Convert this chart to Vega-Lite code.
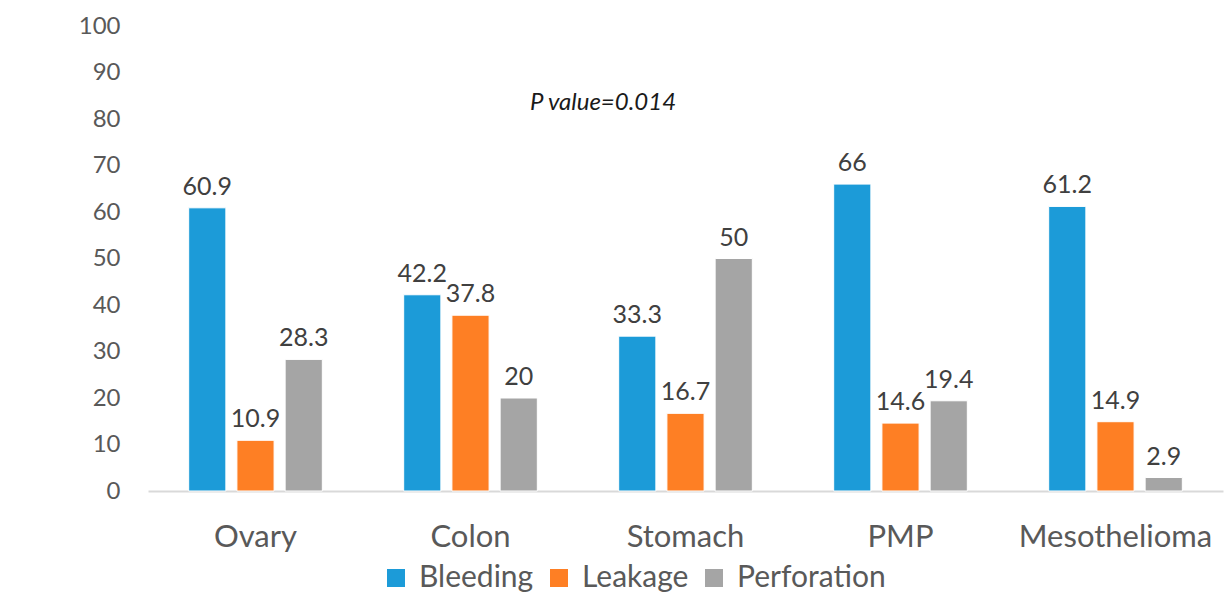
{
  "$schema": "https://vega.github.io/schema/vega-lite/v6.json",
  "autosize": {"type": "none"},
  "padding": {"left": 148, "top": 26, "right": 9, "bottom": 113},
  "width": 1075,
  "height": 465,
  "background": "white",
  "config": {"view": {"stroke": null}},
  "title": {
    "text": "P value=0.014",
    "anchor": "start",
    "frame": "group",
    "orient": "top",
    "dx": 382,
    "dy": 120,
    "offset": 0,
    "baseline": "alphabetic",
    "font": "Lato",
    "fontSize": 24,
    "fontStyle": "italic",
    "fontWeight": "normal",
    "color": "#1a1a1a"
  },
  "data": {
    "values": [
      {"site": "Ovary", "type": "Bleeding", "value": 60.9},
      {"site": "Ovary", "type": "Leakage", "value": 10.9},
      {"site": "Ovary", "type": "Perforation", "value": 28.3},
      {"site": "Colon", "type": "Bleeding", "value": 42.2},
      {"site": "Colon", "type": "Leakage", "value": 37.8},
      {"site": "Colon", "type": "Perforation", "value": 20},
      {"site": "Stomach", "type": "Bleeding", "value": 33.3},
      {"site": "Stomach", "type": "Leakage", "value": 16.7},
      {"site": "Stomach", "type": "Perforation", "value": 50},
      {"site": "PMP", "type": "Bleeding", "value": 66},
      {"site": "PMP", "type": "Leakage", "value": 14.6},
      {"site": "PMP", "type": "Perforation", "value": 19.4},
      {"site": "Mesothelioma", "type": "Bleeding", "value": 61.2},
      {"site": "Mesothelioma", "type": "Leakage", "value": 14.9},
      {"site": "Mesothelioma", "type": "Perforation", "value": 2.9}
    ]
  },
  "encoding": {
    "x": {
      "field": "site",
      "type": "nominal",
      "sort": ["Ovary", "Colon", "Stomach", "PMP", "Mesothelioma"],
      "scale": {"paddingInner": 0.327, "paddingOuter": 0.1635},
      "axis": {
        "title": null,
        "labelAngle": 0,
        "ticks": false,
        "domainColor": "#D9D9D9",
        "domainWidth": 2,
        "labelFont": "Lato",
        "labelFontSize": 31,
        "labelColor": "#595959",
        "labelPadding": 31,
        "labelLimit": 400
      }
    },
    "xOffset": {
      "field": "type",
      "type": "nominal",
      "sort": ["Bleeding", "Leakage", "Perforation"],
      "scale": {"paddingInner": 0.229, "paddingOuter": 0.1145}
    },
    "y": {
      "field": "value",
      "type": "quantitative",
      "scale": {"domain": [0, 100], "nice": false},
      "axis": {
        "title": null,
        "values": [0, 10, 20, 30, 40, 50, 60, 70, 80, 90, 100],
        "grid": false,
        "ticks": false,
        "domain": false,
        "labelFont": "Lato",
        "labelFontSize": 24,
        "labelColor": "#595959",
        "labelPadding": 28
      }
    }
  },
  "layer": [
    {
      "mark": {"type": "bar", "stroke": "white", "strokeWidth": 1},
      "encoding": {
        "color": {
          "field": "type",
          "type": "nominal",
          "sort": ["Bleeding", "Leakage", "Perforation"],
          "scale": {"domain": ["Bleeding", "Leakage", "Perforation"], "range": ["#1C9BD8", "#FE7F24", "#A5A5A5"]},
          "legend": {
            "title": null,
            "orient": "none",
            "direction": "horizontal",
            "legendX": 233,
            "legendY": 537,
            "symbolType": "square",
            "symbolSize": 324,
            "symbolStrokeWidth": 0,
            "labelFont": "Lato",
            "labelFontSize": 30,
            "labelColor": "#595959",
            "labelOffset": 8,
            "columnPadding": 10
          }
        }
      }
    },
    {
      "mark": {"type": "text", "baseline": "alphabetic", "dy": -13, "font": "Lato", "fontSize": 25, "color": "#404040"},
      "encoding": {
        "text": {"field": "value", "type": "quantitative"}
      }
    }
  ]
}
